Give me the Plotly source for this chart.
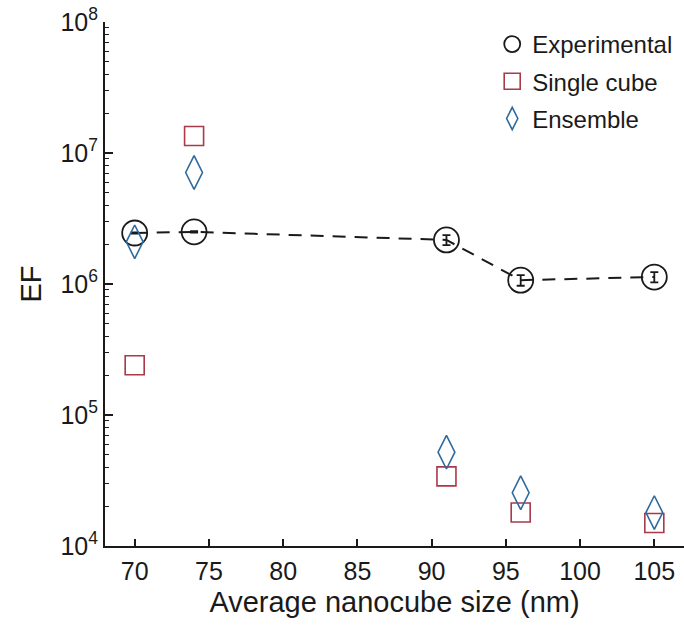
import plotly.graph_objects as go

# Enhancement factor versus average nanocube size
size_exp = [70, 74, 91, 96, 105]
ef_exp = [2.45e6, 2.5e6, 2.17e6, 1.07e6, 1.13e6]
ef_exp_err = [0.03e6, 0.03e6, 0.19e6, 0.10e6, 0.10e6]

size_sim = [70, 74, 91, 96, 105]
ef_single = [2.4e5, 1.35e7, 3.4e4, 1.8e4, 1.5e4]
ef_ensemble = [2.1e6, 7.1e6, 5.2e4, 2.55e4, 1.8e4]

x_ticks = [70, 75, 80, 85, 90, 95, 100, 105]
y_exponents = [4, 5, 6, 7, 8]

FONT = "Liberation Sans, Arial, sans-serif"
INK = "#1a1a1a"

fig = go.Figure()

# dashed guide through the experimental points (kept out of the legend)
fig.add_trace(go.Scatter(
    x=size_exp, y=ef_exp, mode="lines", showlegend=False, hoverinfo="skip",
    line=dict(color=INK, width=2, dash="13px,9px"),
))
fig.add_trace(go.Scatter(
    x=size_exp, y=ef_exp, name="Experimental", mode="markers", legendgroup="a",
    marker=dict(symbol="circle-open", size=25, color=INK, line=dict(width=1.8)),
    error_y=dict(type="data", array=ef_exp_err, color=INK, thickness=1.8, width=4),
))
fig.add_trace(go.Scatter(
    x=size_sim, y=ef_single, name="Single cube", mode="markers", legendgroup="b",
    marker=dict(symbol="square-open", size=19, color="#a83a4a", line=dict(width=1.6)),
))
fig.add_trace(go.Scatter(
    x=size_sim, y=ef_ensemble, name="Ensemble", mode="markers", legendgroup="c",
    marker=dict(symbol="diamond-tall-open", size=24, color="#2f6a9e", line=dict(width=1.6)),
))

minor_vals = [m * 10 ** e for e in y_exponents[:-1] for m in range(2, 10)]

fig.update_layout(
    width=684, height=626,
    margin=dict(l=105, r=0, t=22, b=80),
    plot_bgcolor="white", paper_bgcolor="white",
    font=dict(family=FONT, size=25, color=INK),
    showlegend=True,
    legend=dict(x=0.99, y=1.0, xanchor="right", yanchor="top",
                bgcolor="rgba(0,0,0,0)", font=dict(size=24),
                itemsizing="trace", tracegroupgap=3, itemwidth=30),
    xaxis=dict(
        range=[68, 107], tickvals=x_ticks, ticktext=[str(v) for v in x_ticks],
        ticks="inside", ticklen=7, tickwidth=1.8, tickcolor=INK, ticklabelstandoff=2,
        showline=True, linecolor=INK, linewidth=2, showgrid=False, zeroline=False,
        title=dict(text="Average nanocube size (nm)", font=dict(size=29), standoff=8),
    ),
    yaxis=dict(
        type="log", range=[4, 8],
        tickvals=[10 ** e for e in y_exponents],
        ticktext=[f"10<sup>{e}</sup>" for e in y_exponents],
        ticks="inside", ticklen=8, tickwidth=1.8, tickcolor=INK,
        minor=dict(tickvals=minor_vals, ticks="inside", ticklen=4, tickwidth=1.4,
                   tickcolor=INK, showgrid=False),
        showline=True, linecolor=INK, linewidth=2, showgrid=False, zeroline=False,
        title=dict(text="EF", font=dict(size=29), standoff=10),
    ),
)

fig.write_html("out.html")
